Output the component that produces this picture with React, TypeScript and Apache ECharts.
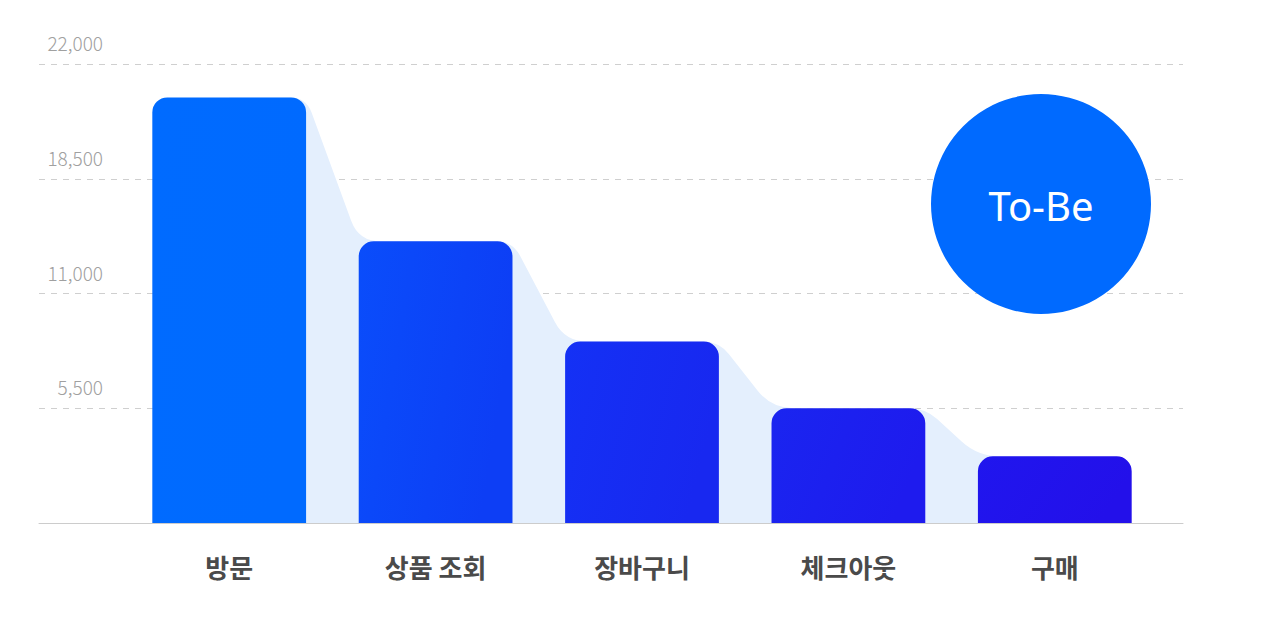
import React, { useEffect, useRef } from "react";
import * as echarts from "echarts";

const categories = ["방문", "상품 조회", "장바구니", "체크아웃", "구매"];
const values = [20400, 13500, 8700, 5500, 3200];
const tickValues = [0, 5500, 11000, 16500, 22000];
const tickLabels = ["", "5,500", "11,000", "18,500", "22,000"];
const barColors = [
  ["#006BFF", "#006AFF"],
  ["#0A4DFB", "#0D3EF5"],
  ["#1431F5", "#1828F0"],
  ["#1A25F0", "#1E1BEE"],
  ["#2016EE", "#2310EA"],
];
const badgeText = "To-Be";

const BAR_FRAC = 0.745;

export default function App() {
  const ref = useRef<HTMLDivElement>(null);
  useEffect(() => {
    if (!ref.current) return;
    const chart = echarts.init(ref.current, null, { renderer: "svg" });

    const renderArea = (params: any, api: any) => {
      if (params.dataIndex !== 0) return null;
      const band = api.size([1, 0])[0];
      const half = (band * BAR_FRAC) / 2;
      const base = api.coord([0, 0])[1];
      const pts = values.map((v, i) => api.coord([i, v]));
      let d = `M ${pts[0][0]} ${base} L ${pts[0][0]} ${pts[0][1]}`;
      for (let i = 0; i < pts.length - 1; i++) {
        const rx = pts[i][0] + half;
        const y0 = pts[i][1];
        const lx = pts[i + 1][0] - half;
        const y1 = pts[i + 1][1];
        const dx = lx - rx;
        const dy = y1 - y0;
        const len = Math.sqrt(dx * dx + dy * dy);
        const ux = dx / len;
        const uy = dy / len;
        const aTop = Math.min(16, len / 2 - 1);
        const aBot = Math.min(22, len / 2 - 1);
        d += ` L ${rx - aTop} ${y0}`;
        d += ` Q ${rx} ${y0} ${rx + ux * aTop} ${y0 + uy * aTop}`;
        d += ` L ${lx - ux * aBot} ${y1 - uy * aBot}`;
        d += ` Q ${lx} ${y1} ${lx + aBot} ${y1}`;
        d += ` L ${pts[i + 1][0]} ${y1}`;
      }
      const last = pts[pts.length - 1];
      d += ` L ${last[0]} ${base} Z`;
      return {
        type: "path",
        shape: { pathData: d },
        style: { fill: "#E4EFFD" },
      };
    };

    const option: any = {
      animation: false,
      backgroundColor: "#ffffff",
      grid: [
        { left: 39, right: 97, top: 64, bottom: 117 },
        { left: 126, right: 122, top: 64, bottom: 117 },
      ],
      xAxis: [
        {
          type: "category",
          gridIndex: 0,
          data: [""],
          axisLine: { show: true, lineStyle: { color: "#CCCCCC", width: 1 } },
          axisTick: { show: false },
          axisLabel: { show: false },
          splitLine: { show: false },
        },
        {
          type: "category",
          gridIndex: 1,
          data: categories,
          axisLine: { show: false },
          axisTick: { show: false },
          axisLabel: {
            margin: 30,
            fontSize: 26,
            fontWeight: "bold",
            color: "#4A4A4A",
            fontFamily: "Noto Sans CJK KR",
          },
        },
      ],
      yAxis: [
        {
          type: "value",
          gridIndex: 0,
          min: 0,
          max: 22000,
          interval: 5500,
          axisLine: { show: false },
          axisTick: { show: false },
          splitLine: {
            show: true,
            lineStyle: { color: "#CFCFCF", type: [6, 6], width: 1 },
          },
          axisLabel: {
            inside: true,
            align: "right",
            verticalAlign: "bottom",
            margin: 64,
            padding: [0, 0, 12, 0],
            fontSize: 19,
            fontWeight: 300,
            color: "#A0A0A0",
            fontFamily: "Noto Sans CJK KR",
            formatter: (v: number) => {
              const idx = tickValues.indexOf(v);
              return idx >= 0 ? tickLabels[idx] : "";
            },
          },
        },
        {
          type: "value",
          gridIndex: 1,
          min: 0,
          max: 22000,
          interval: 5500,
          show: false,
          splitLine: { show: false },
        },
      ],
      series: [
        {
          type: "custom",
          xAxisIndex: 1,
          yAxisIndex: 1,
          z: 1,
          silent: true,
          renderItem: renderArea,
          data: values.map((v, i) => [i, v]),
        },
        {
          type: "bar",
          xAxisIndex: 1,
          yAxisIndex: 1,
          z: 2,
          barWidth: `${BAR_FRAC * 100}%`,
          data: values.map((v, i) => ({
            value: v,
            itemStyle: {
              borderRadius: [15, 15, 0, 0],
              color: new echarts.graphic.LinearGradient(0, 0, 1, 0.3, [
                { offset: 0, color: barColors[i][0] },
                { offset: 1, color: barColors[i][1] },
              ]),
            },
          })),
        },
      ],
      graphic: [
        {
          type: "circle",
          shape: { cx: 1041, cy: 204, r: 110 },
          style: { fill: "#006AFF" },
          z: 10,
        },
        {
          type: "text",
          x: 1041,
          y: 205,
          z: 11,
          style: {
            text: badgeText,
            fill: "#FFFFFF",
            fontSize: 40,
            fontFamily: "Noto Sans",
            align: "center",
            verticalAlign: "middle",
          },
        },
      ],
    };
    chart.setOption(option);
    return () => chart.dispose();
  }, []);
  return <div ref={ref} style={{ width: 1280, height: 640, margin: -8 }} />;
}
